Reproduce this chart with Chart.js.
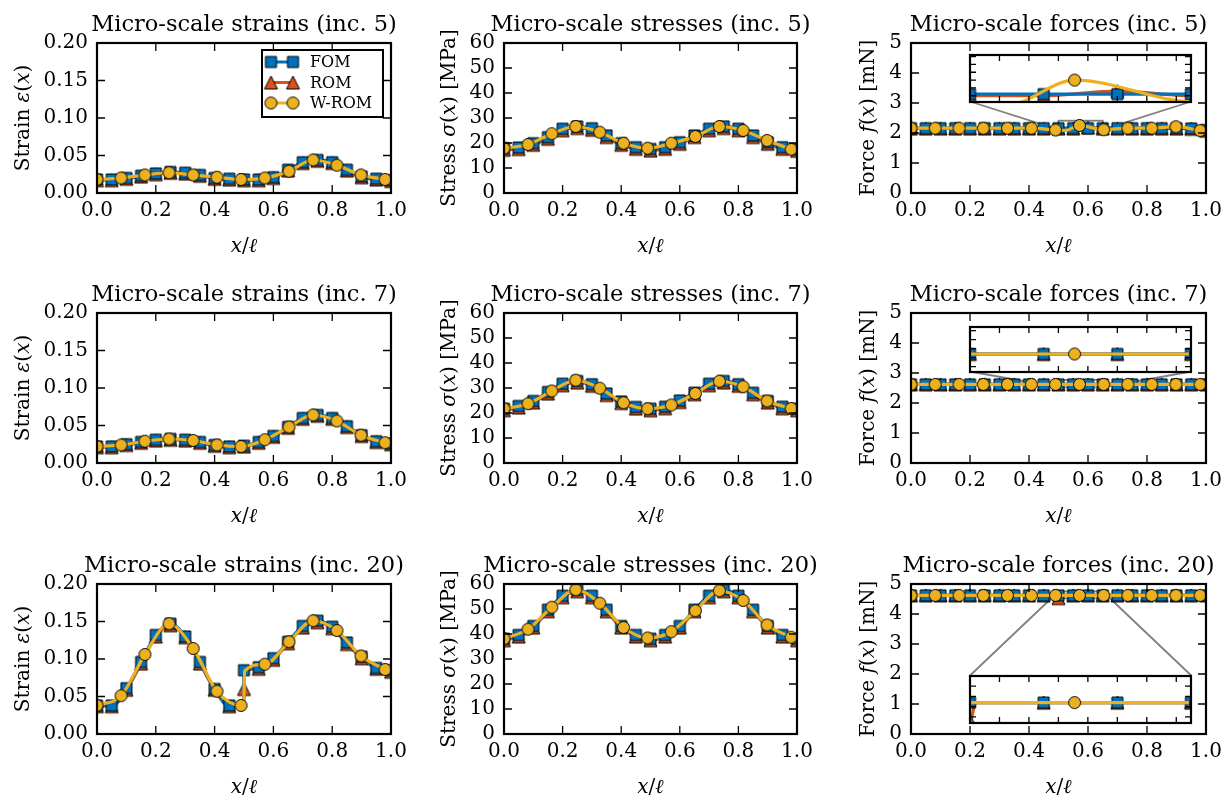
<!DOCTYPE html>
<html>
<head>
<meta charset="utf-8">
<script src="https://cdn.jsdelivr.net/npm/chart.js@4.4.1/dist/chart.umd.min.js"></script>
<style>
  html, body { margin: 0; padding: 0; background: #fff; overflow: hidden; }
  #fig { position: relative; width: 1228px; height: 798px; }
  #fig canvas { position: absolute; }
</style>
</head>
<body>
<div id="fig"></div>
<script>
// ---- data ----
const xFom  = [0, 0.05, 0.1, 0.15, 0.2, 0.25, 0.3, 0.35, 0.4, 0.45, 0.5, 0.55, 0.6, 0.65, 0.7, 0.75, 0.8, 0.85, 0.9, 0.95, 1.0];
const xWrom = [0, 0.082, 0.163, 0.245, 0.327, 0.408, 0.49, 0.571, 0.653, 0.735, 0.816, 0.898, 0.98];

const xTicks      = [0, 0.2, 0.4, 0.6, 0.8, 1.0];
const strainTicks = [0, 0.05, 0.1, 0.15, 0.2];
const stressTicks = [0, 10, 20, 30, 40, 50, 60];
const forceTicks  = [0, 1, 2, 3, 4, 5];

// increment 5
const strain5Fom  = [0.018, 0.018, 0.020, 0.023, 0.026, 0.028, 0.027, 0.024, 0.020, 0.019, 0.018, 0.018, 0.021, 0.031, 0.041, 0.044, 0.041, 0.031, 0.022, 0.019, 0.017];
const strain5Rom  = [0.017, 0.017, 0.019, 0.022, 0.025, 0.027, 0.026, 0.023, 0.019, 0.018, 0.017, 0.017, 0.020, 0.030, 0.040, 0.043, 0.040, 0.030, 0.021, 0.018, 0.016];
const strain5Wrom = [0.018, 0.020, 0.024, 0.027, 0.024, 0.021, 0.018, 0.020, 0.029, 0.044, 0.037, 0.024, 0.018];
const stress5Fom  = [17.9, 18.2, 19.9, 22.3, 25.7, 26.6, 25.9, 23.0, 19.9, 18.3, 17.6, 18.3, 20.3, 23.0, 25.7, 26.6, 25.7, 23.0, 20.3, 18.3, 17.5];
const stress5Rom  = [17.3, 17.6, 19.3, 21.7, 25.1, 26.0, 25.3, 22.4, 19.3, 17.7, 17.0, 17.7, 19.7, 22.4, 25.1, 26.0, 25.1, 22.4, 19.7, 17.7, 16.9];
const stress5Wrom = [17.9, 19.4, 23.7, 26.6, 24.3, 19.9, 17.9, 19.9, 22.6, 26.6, 25.0, 21.0, 17.5];
const force5Fom   = [2.16, 2.16, 2.16, 2.16, 2.16, 2.16, 2.16, 2.16, 2.16, 2.16, 2.16, 2.16, 2.16, 2.16, 2.16, 2.16, 2.16, 2.16, 2.16, 2.15, 2.10];
const force5Rom   = [2.15, 2.15, 2.15, 2.15, 2.15, 2.15, 2.15, 2.15, 2.15, 2.15, 2.15, 2.15, 2.18, 2.15, 2.15, 2.15, 2.15, 2.15, 2.15, 2.14, 2.08];
const force5Wrom  = [2.16, 2.16, 2.16, 2.16, 2.16, 2.16, 2.10, 2.25, 2.11, 2.16, 2.16, 2.21, 2.08];
const force5WromExtra = [[0.525, 2.09]];

// increment 7
const strain7Fom  = [0.022, 0.022, 0.025, 0.028, 0.031, 0.032, 0.031, 0.028, 0.024, 0.022, 0.023, 0.028, 0.036, 0.048, 0.060, 0.064, 0.060, 0.049, 0.037, 0.029, 0.026];
const strain7Rom  = [0.021, 0.021, 0.024, 0.027, 0.030, 0.031, 0.030, 0.027, 0.023, 0.021, 0.022, 0.027, 0.035, 0.047, 0.059, 0.063, 0.059, 0.048, 0.036, 0.028, 0.025];
const strain7Wrom = [0.022, 0.024, 0.029, 0.032, 0.030, 0.024, 0.022, 0.031, 0.048, 0.064, 0.056, 0.037, 0.027];
const stress7Fom  = [21.7, 22.8, 24.8, 28.4, 31.7, 32.8, 31.5, 27.8, 24.6, 22.4, 21.7, 22.5, 25.0, 28.1, 31.7, 32.8, 31.5, 28.1, 24.8, 22.5, 21.7];
const stress7Rom  = [21.1, 22.2, 24.2, 27.8, 31.1, 32.2, 30.9, 27.2, 24.0, 21.8, 21.1, 21.9, 24.4, 27.5, 31.1, 32.2, 30.9, 27.5, 24.2, 21.9, 21.1];
const stress7Wrom = [21.7, 23.7, 28.8, 33.1, 29.9, 24.1, 21.7, 23.2, 27.8, 32.7, 30.5, 24.8, 21.8];
const force7Fom   = [2.62, 2.62, 2.62, 2.62, 2.62, 2.62, 2.62, 2.62, 2.62, 2.62, 2.62, 2.62, 2.62, 2.62, 2.62, 2.62, 2.62, 2.62, 2.62, 2.62, 2.62];
const force7Rom   = [2.62, 2.62, 2.62, 2.62, 2.62, 2.62, 2.62, 2.62, 2.62, 2.62, 2.62, 2.62, 2.62, 2.62, 2.62, 2.62, 2.62, 2.62, 2.62, 2.62, 2.62];
const force7Wrom  = [2.62, 2.62, 2.62, 2.62, 2.62, 2.62, 2.62, 2.62, 2.62, 2.62, 2.62, 2.62, 2.62];

// increment 20
const strain20Fom  = [0.038, 0.038, 0.061, 0.096, 0.132, 0.147, 0.130, 0.096, 0.060, 0.038, 0.085, 0.089, 0.101, 0.123, 0.144, 0.151, 0.143, 0.122, 0.103, 0.088, 0.085];
const strain20FomExtra = [[0.499, 0.038]];
const strain20Rom  = [0.037, 0.037, 0.059, 0.094, 0.130, 0.145, 0.129, 0.094, 0.059, 0.037, 0.060, 0.087, 0.099, 0.121, 0.142, 0.149, 0.141, 0.120, 0.101, 0.087, 0.083];
const strain20RomExtra = [[0.499, 0.037], [0.501, 0.083]];
const strain20Wrom = [0.038, 0.051, 0.106, 0.147, 0.114, 0.057, 0.038, 0.093, 0.123, 0.151, 0.138, 0.104, 0.086];
const strain20WromExtra = [[0.499, 0.038], [0.502, 0.084]];
const stress20Fom  = [38.1, 39.6, 43.2, 49.7, 55.3, 57.7, 55.3, 49.7, 43.2, 39.6, 38.1, 39.6, 43.2, 49.7, 55.3, 57.7, 55.3, 49.7, 43.2, 39.6, 38.1];
const stress20Rom  = [37.5, 39.0, 42.6, 49.1, 54.7, 57.1, 54.7, 49.1, 42.6, 39.0, 37.5, 39.0, 42.6, 49.1, 54.7, 57.1, 54.7, 49.1, 42.6, 39.0, 37.5];
const stress20Wrom = [38.1, 41.9, 50.7, 57.7, 52.3, 42.6, 38.4, 40.9, 49.3, 57.3, 53.4, 43.6, 38.7];
const force20Fom   = [4.62, 4.62, 4.62, 4.62, 4.62, 4.62, 4.62, 4.62, 4.62, 4.62, 4.62, 4.62, 4.62, 4.62, 4.62, 4.62, 4.62, 4.62, 4.62, 4.62, 4.62];
const force20Rom   = [4.62, 4.62, 4.62, 4.62, 4.62, 4.62, 4.62, 4.62, 4.62, 4.62, 4.53, 4.62, 4.62, 4.62, 4.62, 4.62, 4.62, 4.62, 4.62, 4.62, 4.62];
const force20RomExtra = [[0.496, 4.62], [0.504, 4.62]];
const force20Wrom  = [4.62, 4.62, 4.62, 4.62, 4.62, 4.62, 4.62, 4.62, 4.62, 4.62, 4.62, 4.62, 4.62];

// ---- look ----
const FONT = "'DejaVu Serif', 'Liberation Serif', serif";
Chart.defaults.font.family = FONT;
Chart.defaults.color = '#000';
Chart.defaults.elements.line.capBezierPoints = false;

const colL = [97, 504, 911], colR = [391, 797, 1206];
const rowT = [43, 313, 584], rowB = [193, 463, 734];

function marker(shape, fill) {
  const c = document.createElement('canvas');
  c.width = c.height = 17;
  const g = c.getContext('2d'), m = 8.5;
  g.fillStyle = fill; g.strokeStyle = '#000'; g.lineWidth = 1;
  g.beginPath();
  if (shape == 'square') g.rect(m - 5.5, m - 5.5, 11, 11);
  else if (shape == 'triangle') { g.moveTo(m, m - 6.5); g.lineTo(m + 6.5, m + 6.5); g.lineTo(m - 6.5, m + 6.5); g.closePath(); }
  else g.arc(m, m, 6, 0, Math.PI * 2);
  g.fill(); g.stroke();
  return c;
}

// order: ROM drawn first, FOM over it, W-ROM on top
const SERIES = [
  { label: 'FOM',   key: 'fom',  color: '#0072BD', img: marker('square', '#0072BD'),   order: 2 },
  { label: 'ROM',   key: 'rom',  color: '#D95319', img: marker('triangle', '#D95319'), order: 3 },
  { label: 'W-ROM', key: 'wrom', color: '#EDB120', img: marker('circle', '#EDB120'),   order: 1 },
];

const KINDS = {
  strain: { name: 'strains',  ticks: strainTicks, dec: 2, label: [['Strain ', 0], ['ε', 1], ['(', 0], ['x', 1], [')', 0]] },
  stress: { name: 'stresses', ticks: stressTicks, dec: 0, label: [['Stress ', 0], ['σ', 1], ['(', 0], ['x', 1], [')', 0], [' [MPa]', 0]] },
  force:  { name: 'forces',   ticks: forceTicks,  dec: 0, label: [['Force ', 0], ['f', 1], ['(', 0], ['x', 1], [')', 0], [' [mN]', 0]] },
};
const xLabel = [['x', 1], ['/', 0], ['ℓ', 1]];

const panels = [
  { kind: 'strain', inc: 5, fom: strain5Fom, rom: strain5Rom, wrom: strain5Wrom, legend: true },
  { kind: 'stress', inc: 5, fom: stress5Fom, rom: stress5Rom, wrom: stress5Wrom },
  { kind: 'force',  inc: 5, fom: force5Fom, rom: force5Rom, wrom: force5Wrom, wromExtra: force5WromExtra,
    inset: { box: [0.2, 0.61, 0.95, 0.92], x: [0.5, 0.65], y: [2.11, 2.41], link: 'bottom' } },
  { kind: 'strain', inc: 7, fom: strain7Fom, rom: strain7Rom, wrom: strain7Wrom },
  { kind: 'stress', inc: 7, fom: stress7Fom, rom: stress7Rom, wrom: stress7Wrom },
  { kind: 'force',  inc: 7, fom: force7Fom, rom: force7Rom, wrom: force7Wrom,
    inset: { box: [0.2, 0.61, 0.95, 0.91], x: [0.5, 0.65], y: [2.52, 2.77], link: 'bottom' } },
  { kind: 'strain', inc: 20, fom: strain20Fom, rom: strain20Rom, wrom: strain20Wrom,
    fomExtra: strain20FomExtra, romExtra: strain20RomExtra, wromExtra: strain20WromExtra },
  { kind: 'stress', inc: 20, fom: stress20Fom, rom: stress20Rom, wrom: stress20Wrom },
  { kind: 'force',  inc: 20, fom: force20Fom, rom: force20Rom, wrom: force20Wrom, romExtra: force20RomExtra,
    inset: { box: [0.2, 0.08, 0.95, 0.39], x: [0.5, 0.65], y: [4.52, 4.75], link: 'top' } },
];

function pts(xs, ys, extra) {
  const out = xs.map((x, i) => ({ x: x, y: ys[i] }));
  (extra || []).forEach(e => out.push({ x: e[0], y: e[1], hide: true }));
  return out.sort((a, b) => a.x - b.x);
}

function makeDatasets(p) {
  return SERIES.map(s => ({
    label: s.label,
    data: pts(s.key == 'wrom' ? xWrom : xFom, p[s.key], p[s.key + 'Extra']),
    borderColor: s.color,
    borderWidth: 3.2,
    pointStyle: s.img,
    pointRadius: c => (c.raw && c.raw.hide) ? 0 : 6,
    cubicInterpolationMode: 'monotone',
    order: s.order,
    clip: 0,
    fill: false
  }));
}

function richWidth(ctx, parts, size) {
  let w = 0;
  parts.forEach(([t, it]) => { ctx.font = (it ? 'italic ' : '') + size + 'px ' + FONT; w += ctx.measureText(t).width; });
  return w;
}
function drawRich(ctx, parts, x, y, size, rot) {
  ctx.save();
  ctx.translate(x, y);
  if (rot) ctx.rotate(-Math.PI / 2);
  ctx.textBaseline = 'middle'; ctx.textAlign = 'left'; ctx.fillStyle = '#000';
  let cx = -richWidth(ctx, parts, size) / 2;
  parts.forEach(([t, it]) => {
    ctx.font = (it ? 'italic ' : '') + size + 'px ' + FONT;
    ctx.fillText(t, cx, 0);
    cx += ctx.measureText(t).width;
  });
  ctx.restore();
}

function tickList(min, max, step) {
  const out = [];
  for (let v = Math.ceil(min / step - 1e-9) * step; v <= max + 1e-9; v += step) out.push(v);
  return out;
}

// box, inward ticks, inset links, titles, labels, legend
const frame = {
  id: 'frame',
  beforeDraw(chart) {
    const p = chart.canvas.$p;
    if (!p.isInset) return;
    const a = chart.chartArea, c = chart.ctx;
    c.save(); c.fillStyle = '#fff';
    c.fillRect(a.left, a.top, a.right - a.left, a.bottom - a.top);
    c.restore();
  },
  beforeDatasetsDraw(chart) {
    const p = chart.canvas.$p;
    if (p.isInset || !p.inset) return;
    const a = chart.chartArea, c = chart.ctx, W = a.right - a.left, H = a.bottom - a.top;
    const b = p.inset.box, xs = chart.scales.x, ys = chart.scales.y;
    const il = a.left + b[0] * W, ir = a.left + b[2] * W, ib = a.bottom - b[1] * H, it = a.bottom - b[3] * H;
    const rl = xs.getPixelForValue(p.inset.x[0]), rr = xs.getPixelForValue(p.inset.x[1]);
    const rb = ys.getPixelForValue(p.inset.y[0]), rt = ys.getPixelForValue(p.inset.y[1]);
    c.save();
    c.strokeStyle = '#808080'; c.lineWidth = 1.8;
    c.strokeRect(rl, rt, rr - rl, rb - rt);
    c.beginPath();
    if (p.inset.link == 'bottom') {
      c.moveTo(il, ib); c.lineTo(rl, rb);
      c.moveTo(ir, ib); c.lineTo(rr, rb);
    } else {
      c.moveTo(il, it); c.lineTo(rl, rt);
      c.moveTo(ir, it); c.lineTo(rr, rt);
    }
    c.stroke();
    c.restore();
  },
  afterDatasetsDraw(chart) {
    const p = chart.canvas.$p, a = chart.chartArea, c = chart.ctx;
    const xs = chart.scales.x, ys = chart.scales.y;
    const tl = p.isInset ? 6 : 8;
    c.save();
    c.strokeStyle = '#000'; c.lineWidth = 1.3;
    c.beginPath();
    p.xt.forEach(v => {
      const x = xs.getPixelForValue(v);
      if (x <= a.left + 1 || x >= a.right - 1) return;
      c.moveTo(x, a.bottom); c.lineTo(x, a.bottom - tl);
      c.moveTo(x, a.top); c.lineTo(x, a.top + tl);
    });
    p.yt.forEach(v => {
      const y = ys.getPixelForValue(v);
      if (y <= a.top + 1 || y >= a.bottom - 1) return;
      c.moveTo(a.left, y); c.lineTo(a.left + tl, y);
      c.moveTo(a.right, y); c.lineTo(a.right - tl, y);
    });
    c.stroke();
    c.lineWidth = 2.2;
    c.strokeRect(a.left, a.top, a.right - a.left, a.bottom - a.top);
    c.restore();
  },
  afterDraw(chart) {
    const p = chart.canvas.$p;
    if (p.isInset) return;
    const a = chart.chartArea, c = chart.ctx, k = KINDS[p.kind];
    const cx = (a.left + a.right) / 2, cy = (a.top + a.bottom) / 2;
    c.save();
    c.fillStyle = '#000';
    c.font = '22.5px ' + FONT; c.textAlign = 'center'; c.textBaseline = 'alphabetic';
    c.fillText('Micro-scale ' + k.name + ' (inc. ' + p.inc + ')', cx, a.top - 12);
    c.restore();
    drawRich(c, xLabel, cx, a.bottom + 54, 20, false);
    c.font = '20px ' + FONT;
    const tw = Math.max.apply(null, k.ticks.map(v => c.measureText(v.toFixed(k.dec)).width));
    drawRich(c, k.label, a.left - tw - 9 - 20, cy, 20, true);

    if (p.legend) {
      const w = 121, h = 67, l = a.right - 8 - w, t = a.top + 7;
      c.save();
      c.fillStyle = '#fff'; c.fillRect(l, t, w, h);
      c.strokeStyle = '#000'; c.lineWidth = 2; c.strokeRect(l, t, w, h);
      SERIES.forEach((s, i) => {
        const y = t + 12 + i * 20.5;
        c.strokeStyle = s.color; c.lineWidth = 3;
        c.beginPath(); c.moveTo(l + 9, y); c.lineTo(l + 31, y); c.stroke();
        [l + 9, l + 31].forEach(x => c.drawImage(s.img, x - s.img.width / 2, y - s.img.height / 2));
        c.fillStyle = '#000'; c.font = '16px ' + FONT;
        c.textAlign = 'left'; c.textBaseline = 'middle';
        c.fillText(s.label, l + 48, y + 1);
      });
      c.restore();
    }
  }
};

const fig = document.getElementById('fig');

panels.forEach((p, idx) => {
  const r = Math.floor(idx / 3), col = idx % 3;
  const k = KINDS[p.kind];
  const W = colR[col] - colL[col], H = rowB[r] - rowT[r];
  const left = colL[col] - 95, top = rowT[r] - 43;
  const cv = document.createElement('canvas');
  cv.width = W + 95 + 30; cv.height = H + 43 + 64;
  cv.style.left = left + 'px'; cv.style.top = top + 'px';
  fig.appendChild(cv);
  cv.$p = Object.assign({ xt: xTicks, yt: k.ticks }, p);

  const chart = new Chart(cv, {
    type: 'line',
    data: { datasets: makeDatasets(p) },
    options: {
      responsive: false, animation: false, events: [],
      layout: { autoPadding: false, padding: { left: 0, top: 43, right: 30, bottom: 0 } },
      plugins: { legend: { display: false }, tooltip: { enabled: false } },
      scales: {
        x: {
          type: 'linear', min: 0, max: 1,
          afterBuildTicks: s => { s.ticks = xTicks.map(v => ({ value: v })); },
          ticks: { font: { size: 20 }, padding: 6, maxRotation: 0, autoSkip: false, callback: v => v.toFixed(1) },
          grid: { display: false, drawTicks: false }, border: { display: false },
          afterFit: s => { s.height = 64; s.paddingLeft = 0; s.paddingRight = 0; }
        },
        y: {
          type: 'linear', min: k.ticks[0], max: k.ticks[k.ticks.length - 1],
          afterBuildTicks: s => { s.ticks = k.ticks.map(v => ({ value: v })); },
          ticks: { font: { size: 20 }, padding: 9, autoSkip: false, callback: v => v.toFixed(k.dec) },
          grid: { display: false, drawTicks: false }, border: { display: false },
          afterFit: s => { s.width = 95; s.paddingTop = 0; s.paddingBottom = 0; }
        }
      }
    },
    plugins: [frame]
  });

  if (p.inset) {
    const a = chart.chartArea, aw = a.right - a.left, ah = a.bottom - a.top, b = p.inset.box;
    const il = left + a.left + b[0] * aw, ir = left + a.left + b[2] * aw;
    const it = top + a.bottom - b[3] * ah, ib = top + a.bottom - b[1] * ah;
    const ic = document.createElement('canvas');
    ic.width = Math.round(ir - il) + 4; ic.height = Math.round(ib - it) + 4;
    ic.style.left = (il - 2) + 'px'; ic.style.top = (it - 2) + 'px';
    fig.appendChild(ic);
    ic.$p = { isInset: true, xt: tickList(p.inset.x[0], p.inset.x[1], 0.02), yt: tickList(p.inset.y[0], p.inset.y[1], 0.05) };
    new Chart(ic, {
      type: 'line',
      data: { datasets: makeDatasets(p) },
      options: {
        responsive: false, animation: false, events: [],
        layout: { autoPadding: false, padding: 2 },
        plugins: { legend: { display: false }, tooltip: { enabled: false } },
        scales: {
          x: { type: 'linear', display: false, min: p.inset.x[0], max: p.inset.x[1] },
          y: { type: 'linear', display: false, min: p.inset.y[0], max: p.inset.y[1] }
        }
      },
      plugins: [frame]
    });
  }
});
</script>
</body>
</html>
